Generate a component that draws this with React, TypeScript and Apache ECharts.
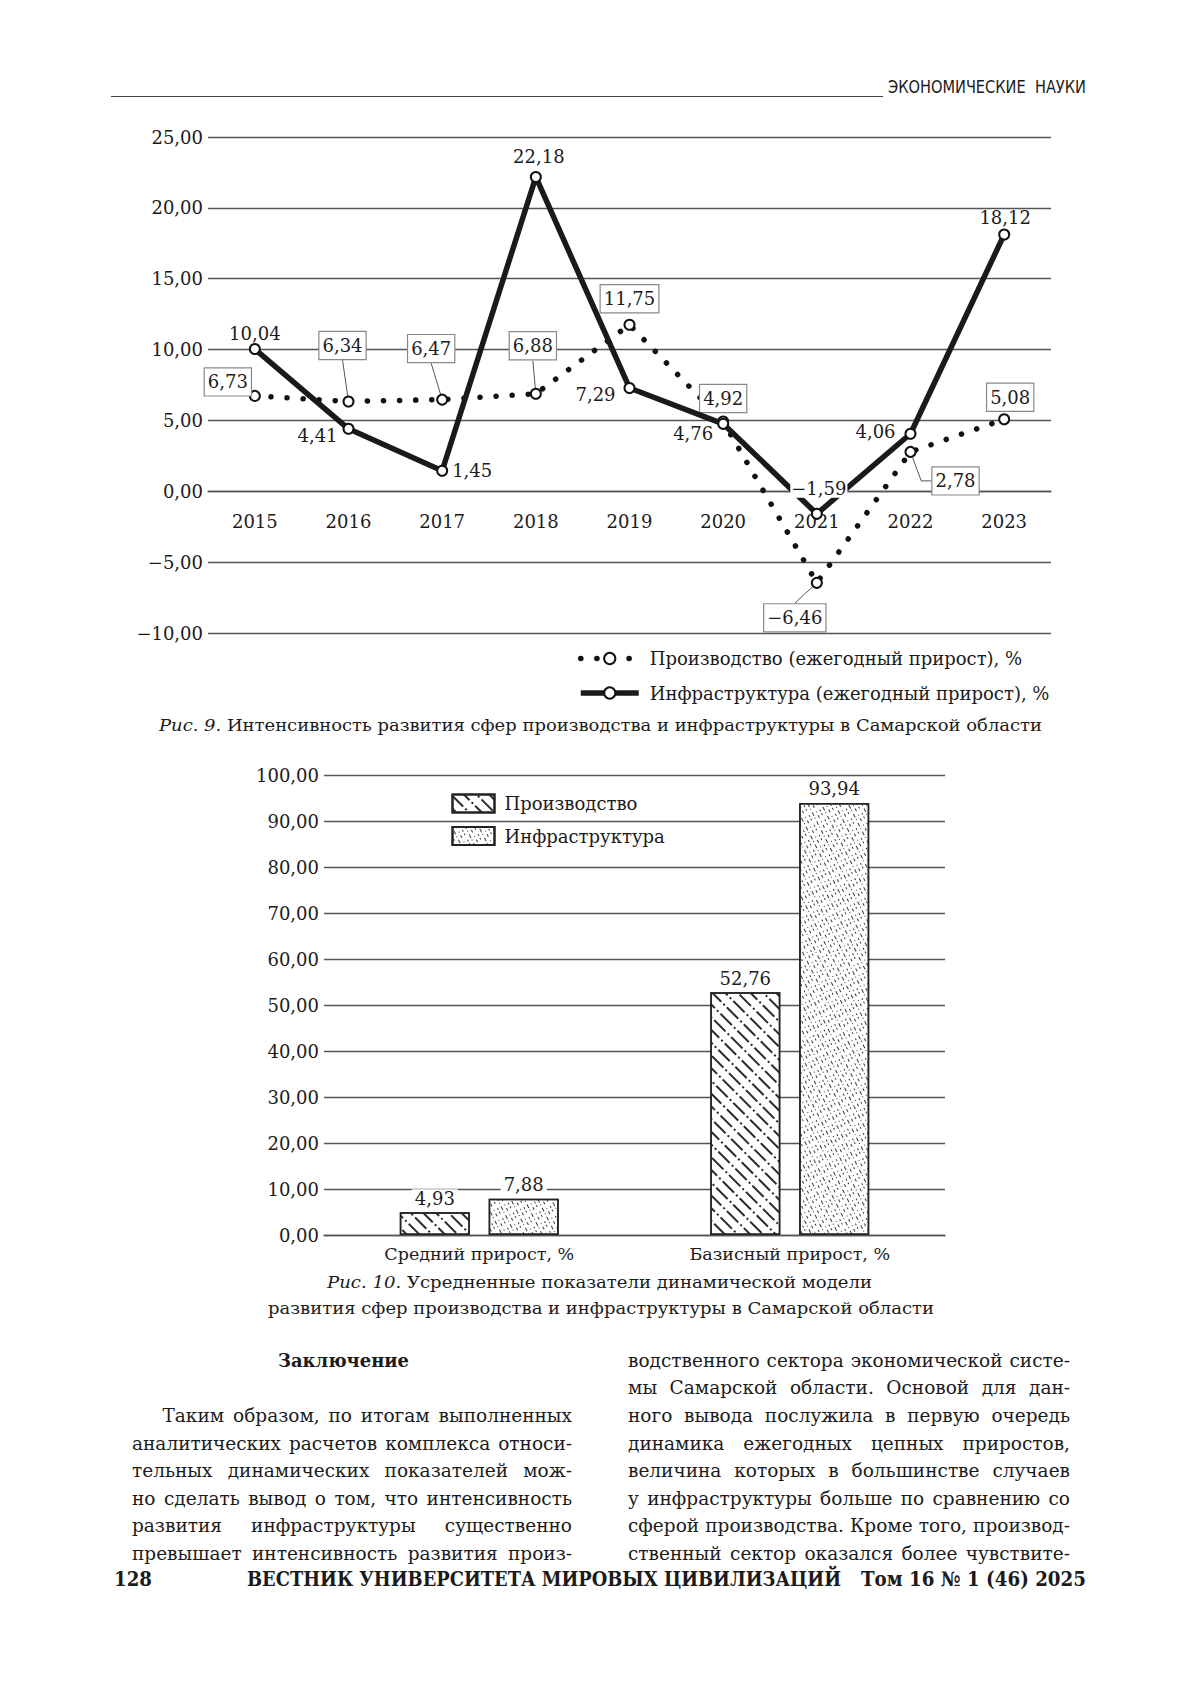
import React, { useEffect, useLayoutEffect, useRef } from 'react';
import * as echarts from 'echarts';

// ---------- data ----------
const years = ['2015', '2016', '2017', '2018', '2019', '2020', '2021', '2022', '2023'];
const productionGrowth = [6.73, 6.34, 6.47, 6.88, 11.75, 4.92, -6.46, 2.78, 5.08];
const infrastructureGrowth = [10.04, 4.41, 1.45, 22.18, 7.29, 4.76, -1.59, 4.06, 18.12];
const lineAxisMin = -10;
const lineAxisMax = 25;
const lineAxisStep = 5;

const barCategories = ['Средний прирост, %', 'Базисный прирост, %'];
const productionSummary = [4.93, 52.76];
const infrastructureSummary = [7.88, 93.94];
const barAxisMin = 0;
const barAxisMax = 100;
const barAxisStep = 10;

const seriesNames1 = ['Производство (ежегодный прирост), %', 'Инфраструктура (ежегодный прирост), %'];
const seriesNames2 = ['Производство', 'Инфраструктура'];

// ---------- label placement (style only) ----------
const prodLabelOffset = [[-27, -14], [-6, -56], [-11, -51], [-3, -48], [0, -26], [0, -23], [-22, 35], [45, 29], [6, -22]];
const prodLeader = [false, true, true, true, false, false, true, true, false];
const prodLeaderTail = [0, 0, 0, 0, 0, 0, 0, 10, 0];
const infraLabelOffset = [[0, -16], [-31, 7], [30, 0], [3, -20], [-34, 7], [-30, 10], [2, -25], [-35, -2], [1, -17]];
const infraLabelOpaque = [false, false, false, false, false, false, true, false, false];

const FONT = 'DejaVu Serif';
const INK = '#1b1b1b';
const GRID = '#555';

const fmt = (v: number) => v.toFixed(2).replace('.', ',').replace('-', '\u2212');

// chart 1 geometry
const C1_TOP = 110;
const C1_H = 640;
const G1 = { left: 208, right: 149, top: 27, bottom: 117 };

function lineOption() {
  const gridH = C1_H - G1.top - G1.bottom;
  const zeroShift = (gridH * (0 - lineAxisMin)) / (lineAxisMax - lineAxisMin);
  const prodData = productionGrowth.map((v, i) => ({
    value: v,
    label: { offset: prodLabelOffset[i] },
    labelLine: { show: prodLeader[i], length2: prodLeaderTail[i], lineStyle: { color: '#555', width: 1 } },
  }));
  const infraData = infrastructureGrowth.map((v, i) => ({
    value: v,
    label: {
      offset: infraLabelOffset[i],
      backgroundColor: infraLabelOpaque[i] ? '#fff' : 'transparent',
      padding: infraLabelOpaque[i] ? [0, 1] : 0,
    },
  }));
  return {
    animation: false,
    grid: G1,
    xAxis: {
      type: 'category',
      data: years,
      boundaryGap: true,
      position: 'bottom',
      offset: -zeroShift,
      axisTick: { show: false },
      axisLine: { show: true, onZero: false, lineStyle: { color: GRID, width: 1.3 } },
      axisLabel: { fontFamily: FONT, fontSize: 18, color: INK, margin: 21 },
      splitLine: { show: false },
    },
    yAxis: {
      type: 'value',
      min: lineAxisMin,
      max: lineAxisMax,
      interval: lineAxisStep,
      axisLine: { show: false },
      axisTick: { show: false },
      axisLabel: { formatter: fmt, fontFamily: FONT, fontSize: 18, color: INK, margin: 5 },
      splitLine: { show: true, lineStyle: { color: GRID, width: 1.3 } },
    },
    legend: {
      orient: 'vertical',
      left: 578,
      top: 539.5,
      padding: 0,
      itemWidth: 58,
      itemHeight: 14,
      itemGap: 16.5,
      selectedMode: false,
      data: seriesNames1,
      lineStyle: { width: 5.5 },
      textStyle: { fontFamily: FONT, fontSize: 18, color: INK, padding: [0, 0, 0, 6] },
    },
    series: [
      {
        name: seriesNames1[0],
        type: 'line',
        data: prodData,
        symbol: 'circle',
        symbolSize: 10,
        showSymbol: true,
        itemStyle: { color: '#fff', borderColor: '#111', borderWidth: 2 },
        lineStyle: { color: '#111', width: 5.5, type: [0.1, 16], cap: 'round' },
        label: {
          show: true,
          position: 'inside',
          align: 'center',
          verticalAlign: 'middle',
          formatter: (p: any) => fmt(p.value),
          fontFamily: FONT,
          fontSize: 18,
          color: INK,
          backgroundColor: '#fff',
          borderColor: '#888',
          borderWidth: 1.2,
          padding: [5, 3, 4, 3],
        },
        z: 2,
      },
      {
        name: seriesNames1[1],
        type: 'line',
        data: infraData,
        symbol: 'circle',
        symbolSize: 10,
        showSymbol: true,
        itemStyle: { color: '#fff', borderColor: '#111', borderWidth: 2 },
        lineStyle: { color: '#1a1a1a', width: 5.5 },
        label: {
          show: true,
          position: 'inside',
          align: 'center',
          verticalAlign: 'middle',
          formatter: (p: any) => fmt(p.value),
          fontFamily: FONT,
          fontSize: 18,
          color: INK,
        },
        z: 3,
      },
    ],
  };
}

function barOption() {
  const common = {
    type: 'bar',
    barWidth: 70,
    barGap: '27%',
    label: {
      show: true,
      position: 'top',
      distance: 5,
      formatter: (p: any) => fmt(p.value),
      fontFamily: FONT,
      fontSize: 18,
      color: INK,
      backgroundColor: '#fff',
      padding: [0, 3],
    },
  };
  return {
    animation: false,
    grid: { left: 324, right: 255, top: 25, bottom: 45 },
    xAxis: {
      type: 'category',
      data: barCategories,
      axisTick: { show: false },
      axisLine: { show: true, lineStyle: { color: GRID, width: 1.3 } },
      axisLabel: { fontFamily: FONT, fontSize: 17.5, color: INK, margin: 10 },
    },
    yAxis: {
      type: 'value',
      min: barAxisMin,
      max: barAxisMax,
      interval: barAxisStep,
      axisLine: { show: false },
      axisTick: { show: false },
      axisLabel: { formatter: fmt, fontFamily: FONT, fontSize: 18, color: INK, margin: 5 },
      splitLine: { show: true, lineStyle: { color: GRID, width: 1.3 } },
    },
    legend: {
      orient: 'vertical',
      left: 446.5,
      top: 38.5,
      icon: 'rect',
      itemWidth: 42,
      itemHeight: 18,
      itemGap: 12.5,
      selectedMode: false,
      data: seriesNames2,
      textStyle: { fontFamily: FONT, fontSize: 18, color: INK, padding: [0, 0, 0, 5] },
    },
    series: [
      {
        ...common,
        name: seriesNames2[0],
        data: productionSummary,
        itemStyle: {
          color: '#fff',
          borderColor: '#222',
          borderWidth: 1.5,
          decal: {
            symbol: 'rect',
            symbolSize: 1,
            color: '#2a2a2a',
            dashArrayX: [[16, 3, 2, 3]],
            dashArrayY: [1.1, 6.5],
            rotation: Math.PI / 4,
          },
        },
      },
      {
        ...common,
        name: seriesNames2[1],
        data: infrastructureSummary,
        itemStyle: {
          color: '#fff',
          borderColor: '#222',
          borderWidth: 1.5,
          decal: {
            symbol: 'rect',
            symbolSize: 1,
            color: '#3a3a3a',
            dashArrayX: [[3, 4, 1, 3], [1, 3, 4, 2], [2, 5, 2, 2]],
            dashArrayY: [1, 2.2],
            rotation: 1.1,
          },
        },
      },
    ],
  };
}

// ---------- text helpers ----------
function Fit(props: { x: number; cy: number; w: number; size: number; bold?: boolean; family?: string; children: any }) {
  const ref = useRef<HTMLSpanElement>(null);
  useLayoutEffect(() => {
    const el = ref.current;
    if (!el) return;
    const apply = () => {
      el.style.transform = 'none';
      const nat = el.getBoundingClientRect().width;
      if (nat > 0) el.style.transform = `scaleX(${props.w / nat})`;
    };
    apply();
    (document as any).fonts?.ready?.then(apply);
  }, []);
  return (
    <span
      ref={ref}
      style={{
        position: 'absolute',
        left: props.x,
        top: props.cy - props.size * 0.55,
        fontSize: props.size,
        lineHeight: `${props.size}px`,
        whiteSpace: 'pre',
        transformOrigin: '0 0',
        fontWeight: props.bold ? 'bold' : 'normal',
        fontFamily: props.family || FONT,
      }}
    >
      {props.children}
    </span>
  );
}

function JLine(props: { x: number; cy: number; w: number; text: string; size: number; indent?: number }) {
  const ref = useRef<HTMLSpanElement>(null);
  const indent = props.indent || 0;
  useLayoutEffect(() => {
    const el = ref.current;
    if (!el) return;
    const apply = () => {
      el.style.transform = 'none';
      el.style.wordSpacing = '0px';
      const nat = el.getBoundingClientRect().width;
      const avail = props.w - indent;
      const spaces = (props.text.match(/ /g) || []).length;
      if (nat > avail) el.style.transform = `scaleX(${avail / nat})`;
      else if (spaces) el.style.wordSpacing = `${(avail - nat) / spaces}px`;
    };
    apply();
    (document as any).fonts?.ready?.then(apply);
  }, []);
  return (
    <span
      ref={ref}
      style={{
        position: 'absolute',
        left: props.x + indent,
        top: props.cy - props.size * 0.55,
        fontSize: props.size,
        lineHeight: `${props.size}px`,
        whiteSpace: 'pre',
        transformOrigin: '0 0',
      }}
    >
      {props.text}
    </span>
  );
}

const leftLines = [
  'Таким образом, по итогам выполненных',
  'аналитических расчетов комплекса относи-',
  'тельных динамических показателей мож-',
  'но сделать вывод о том, что интенсивность',
  'развития инфраструктуры существенно',
  'превышает интенсивность развития произ-',
];
const rightLines = [
  'водственного сектора экономической систе-',
  'мы Самарской области. Основой для дан-',
  'ного вывода послужила в первую очередь',
  'динамика ежегодных цепных приростов,',
  'величина которых в большинстве случаев',
  'у инфраструктуры больше по сравнению со',
  'сферой производства. Кроме того, производ-',
  'ственный сектор оказался более чувствите-',
];
const BODY_TOP = 1362;
const BODY_STEP = 27.6;
const rightY = rightLines.map((_, i) => BODY_TOP + i * BODY_STEP);
const leftY = leftLines.map((_, i) => BODY_TOP + (i + 2) * BODY_STEP);
const FOOTER_Y = 1580;

export default function App() {
  const c1 = useRef<HTMLDivElement>(null);
  const c2 = useRef<HTMLDivElement>(null);
  useEffect(() => {
    const ch1 = echarts.init(c1.current!, undefined, { renderer: 'svg' });
    ch1.setOption(lineOption() as any);
    const ch2 = echarts.init(c2.current!, undefined, { renderer: 'svg' });
    ch2.setOption(barOption() as any);
    return () => {
      ch1.dispose();
      ch2.dispose();
    };
  }, []);

  return (
    <div
      style={{
        position: 'absolute',
        left: 0,
        top: 0,
        width: 1200,
        height: 1697,
        background: '#fff',
        overflow: 'hidden',
        fontFamily: FONT,
        color: INK,
      }}
    >
      {/* running header */}
      <div style={{ position: 'absolute', left: 111, top: 96, width: 772, height: 1.3, background: '#444' }} />
      <Fit x={888} cy={88} w={198} size={17} family="'Liberation Sans Narrow', 'DejaVu Sans Condensed', 'Liberation Sans', sans-serif">
        ЭКОНОМИЧЕСКИЕ  НАУКИ
      </Fit>

      <div ref={c1} style={{ position: 'absolute', left: 0, top: C1_TOP, width: 1200, height: C1_H }} />
      <div ref={c2} style={{ position: 'absolute', left: 0, top: 750, width: 1200, height: 530 }} />

      <Fit x={159} cy={727} w={883} size={17.5}>
        <i>Рис. 9.</i> Интенсивность развития сфер производства и инфраструктуры в Самарской области
      </Fit>
      <Fit x={327} cy={1284} w={545} size={17.5}>
        <i>Рис. 10</i>. Усредненные показатели динамической модели
      </Fit>
      <Fit x={267.5} cy={1310} w={666} size={17.5}>
        развития сфер производства и инфраструктуры в Самарской области
      </Fit>

      <Fit x={278} cy={BODY_TOP} w={131} size={18} bold>
        Заключение
      </Fit>
      {leftLines.map((t, i) => (
        <JLine key={'l' + i} x={132} cy={leftY[i]} w={440} text={t} size={18.5} indent={i === 0 ? 30.5 : 0} />
      ))}
      {rightLines.map((t, i) => (
        <JLine key={'r' + i} x={628} cy={rightY[i]} w={442} text={t} size={18.5} />
      ))}

      {/* footer */}
      <Fit x={114} cy={FOOTER_Y} w={38} size={20} bold>
        128
      </Fit>
      <Fit x={247} cy={FOOTER_Y} w={594} size={20} bold>
        ВЕСТНИК УНИВЕРСИТЕТА МИРОВЫХ ЦИВИЛИЗАЦИЙ
      </Fit>
      <Fit x={861} cy={FOOTER_Y} w={225} size={20} bold>
        Том 16 № 1 (46) 2025
      </Fit>
    </div>
  );
}
